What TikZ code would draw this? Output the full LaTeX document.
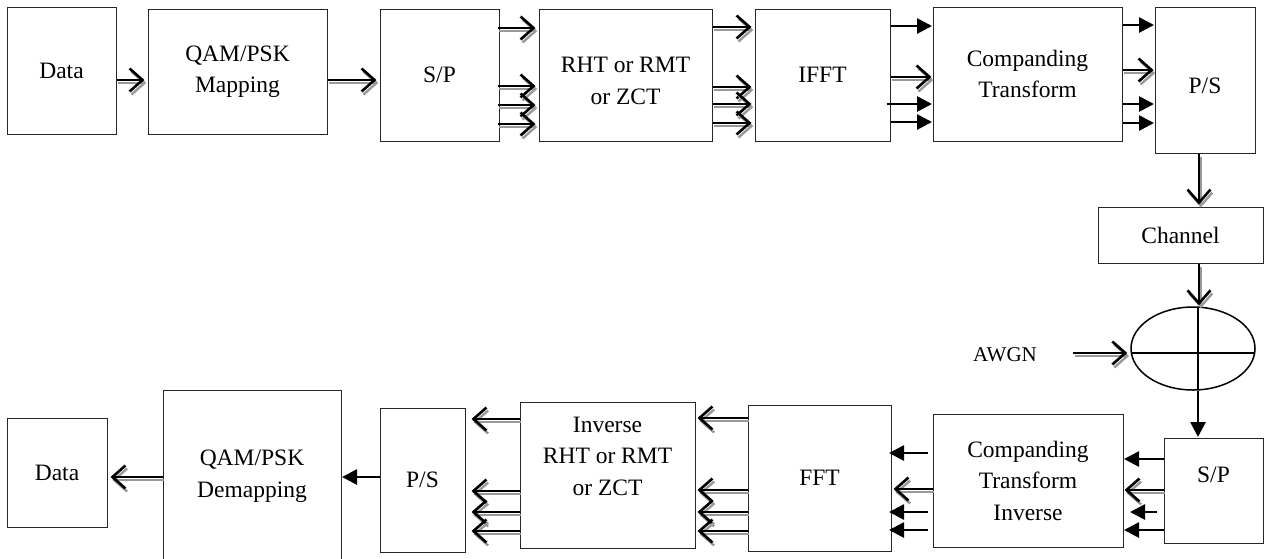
\documentclass[tikz,border=0pt]{standalone}
\usepackage{fontspec}
\setmainfont{Liberation Serif}
\usetikzlibrary{arrows.meta,calc,shapes.geometric}
\tikzset{
  box/.style={draw=black!85, line width=1pt, rectangle, inner sep=0pt, align=center,
              font=\fontsize{23.5}{31.5}\selectfont},
  txt/.style={inner sep=0pt, align=center, font=\fontsize{23.5}{31.5}\selectfont},
  oarr/.style={line width=2.6pt, draw=black,
      -{Straight Barb[length=13pt,width=23pt]}, shorten >=3pt,
      preaction={draw=black!40, line width=2.4pt,
        -{Straight Barb[length=13pt,width=23pt]},
        transform canvas={shift={(1.8pt,-3pt)}}}},
  farr/.style={line width=2.7pt, draw=black, -{Triangle[length=15pt,width=15pt]}, shorten >=0.5pt},
}
\begin{document}
\begin{tikzpicture}[x=1pt,y=-1pt]
\useasboundingbox (0,0) rectangle (1266,558);
% ---- top row ----
\node[box, minimum width=109pt, minimum height=127pt] (dataT) at (61.5,70.5) {Data};
\node[box, minimum width=179pt, minimum height=125pt] (qamT) at (237.5,71.5) {QAM/PSK\\Mapping};
\node[box, minimum width=119pt, minimum height=132pt] (spT) at (439.5,75) {S/P};
\node[box, minimum width=173pt, minimum height=132pt] (rhtT) at (625.5,75) {};
\node[txt] (rhtTt) at (625.5,81) {RHT or RMT\\or ZCT};
\node[box, minimum width=135pt, minimum height=132pt] (ifft) at (822.5,75) {IFFT};
\node[box, minimum width=189pt, minimum height=134pt] (compT) at (1027.5,74) {Companding\\Transform};
\node[box, minimum width=100pt, minimum height=146pt] (psT) at (1205,80) {};
\node[txt] (psTt) at (1205,86) {P/S};
% ---- channel ----
\node[box, minimum width=165pt, minimum height=56pt] (chan) at (1180.5,235) {Channel};
\node[draw=black, line width=1.5pt, ellipse, minimum width=124pt, minimum height=83pt, inner sep=0pt] (sum) at (1193,348.5) {};
\begin{scope}
  \clip (sum.center) ellipse [x radius=62pt, y radius=41.5pt];
  \draw[line width=1.3pt] (1198,300) -- (1198,400) (1120,353) -- (1270,353);
\end{scope}
\node[txt, font=\fontsize{21}{25}\selectfont] (awgn) at (1005,355) {AWGN};
% ---- bottom row ----
\node[box, minimum width=99pt, minimum height=105pt] (spB) at (1213.5,490.5) {};
\node[txt] (spBt) at (1213.5,475) {S/P};
\node[box, minimum width=190pt, minimum height=133pt] (compB) at (1028,480.5) {Companding\\Transform\\Inverse};
\node[box, minimum width=143pt, minimum height=146pt] (fft) at (819.5,478) {FFT};
\node[box, minimum width=175pt, minimum height=146pt] (irht) at (607.5,475) {};
\node[txt] (irhtt) at (607.5,456) {Inverse\\RHT or RMT\\or ZCT};
\node[box, minimum width=85pt, minimum height=144pt] (psB) at (422.5,480) {P/S};
\node[box, minimum width=178pt, minimum height=172pt] (demap) at (252,476) {QAM/PSK\\Demapping};
\node[box, minimum width=100pt, minimum height=109pt] (dataB) at (57,472.5) {Data};
% ---- top connectors ----
\draw[oarr] (dataT.east |- 0,80) -- (qamT.west |- 0,80);
\draw[oarr] (qamT.east |- 0,80) -- (spT.west |- 0,80);
\foreach \yy in {28,86,105,124}
  \draw[oarr] ($(spT.east |- 0,\yy)+(-2,0)$) -- (rhtT.west |- 0,\yy);
\foreach \yy in {27,87,104,123}
  \draw[oarr] (rhtT.east |- 0,\yy) -- (ifft.west |- 0,\yy);
\draw[farr] (ifft.east |- 0,26) -- (compT.west |- 0,26);
\draw[oarr, shorten >=1pt] (ifft.east |- 0,77) -- (compT.west |- 0,77);
\draw[farr] ($(ifft.east |- 0,104)+(-4,0)$) -- (compT.west |- 0,104);
\draw[farr] (ifft.east |- 0,122) -- (compT.west |- 0,122);
\draw[farr] (compT.east |- 0,25) -- (psT.west |- 0,25);
\draw[oarr, shorten >=1pt] (compT.east |- 0,70) -- (psT.west |- 0,70);
\draw[farr] (compT.east |- 0,104) -- (psT.west |- 0,104);
\draw[farr] (compT.east |- 0,123) -- (psT.west |- 0,123);
% ---- vertical connectors ----
\draw[oarr, shorten >=2pt] (psT.south -| 1199,0) -- (chan.north -| 1199,0);
\draw[oarr, shorten >=1pt] (chan.south -| 1199,0) -- (sum.north -| 1199,0);
\draw[oarr] ($(awgn.east |- 0,353)+(36,0)$) -- (sum.west |- 0,353);
\draw[farr] (sum.south -| 1198,0) -- (spB.north -| 1198,0);
% ---- bottom connectors ----
\draw[farr] (spB.west |- 0,459) -- (compB.east |- 0,459);
\draw[oarr, shorten >=1pt] (spB.west |- 0,490) -- (compB.east |- 0,490);
\draw[farr] ($(spB.west |- 0,512)+(-7,0)$) -- ($(compB.east |- 0,512)+(6,0)$);
\draw[farr] (spB.west |- 0,530) -- (compB.east |- 0,530);
\draw[farr] ($(compB.west |- 0,453)+(-5,0)$) -- ($(fft.east |- 0,453)+(-3,0)$);
\draw[oarr, shorten >=2pt] (compB.west |- 0,489) -- (fft.east |- 0,489);
\draw[farr] ($(compB.west |- 0,512)+(-5,0)$) -- ($(fft.east |- 0,512)+(-3,0)$);
\draw[farr] ($(compB.west |- 0,530)+(-5,0)$) -- ($(fft.east |- 0,530)+(-3,0)$);
\foreach \yy in {418,490,512,531}
  \draw[oarr, shorten >=2pt] (fft.west |- 0,\yy) -- (irht.east |- 0,\yy);
\foreach \yy in {419,491,512,531}
  \draw[oarr, shorten >=6pt] (irht.west |- 0,\yy) -- (psB.east |- 0,\yy);
\draw[farr] (psB.west |- 0,477) -- (demap.east |- 0,477);
\draw[oarr] (demap.west |- 0,477) -- (dataB.east |- 0,477);
\end{tikzpicture}
\end{document}
